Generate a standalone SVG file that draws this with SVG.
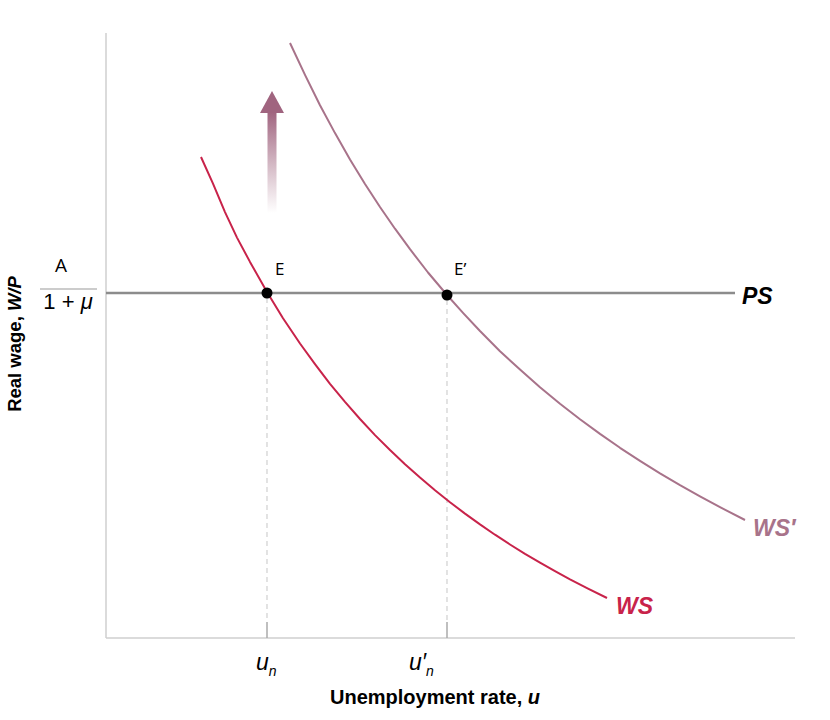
<svg xmlns="http://www.w3.org/2000/svg" width="830" height="720" viewBox="0 0 830 720">
<defs>
<linearGradient id="shaft" x1="0" y1="1" x2="0" y2="0">
<stop offset="0" stop-color="#a8738a" stop-opacity="0"/>
<stop offset="1" stop-color="#a0647f" stop-opacity="1"/>
</linearGradient>
<style>
.axis{stroke:#cfcfcf;stroke-width:1.5;fill:none}
.tick{stroke:#aaaaaa;stroke-width:1.5}
.dash{stroke:#d0d0d0;stroke-width:1.2;stroke-dasharray:5,4;fill:none}
.ps{stroke:#8c8c8c;stroke-width:2.5;fill:none}
.ws{stroke:#c8234a;stroke-width:2;fill:none;stroke-linejoin:round}
.wsp{stroke:#a8738a;stroke-width:2;fill:none;stroke-linejoin:round}
.lbl{font-family:"Liberation Sans",Arial,sans-serif}
.cal{font-family:"Open Sans","Liberation Sans",sans-serif;fill:#000}
</style>
</defs>
<rect width="830" height="720" fill="#ffffff"/>
<g id="axes">
<line class="axis" x1="106" y1="33" x2="106" y2="638"/>
<line class="axis" x1="106" y1="638" x2="795" y2="638"/>
<line class="tick" x1="267" y1="622" x2="267" y2="638"/>
<line class="tick" x1="447" y1="622" x2="447" y2="638"/>
</g>
<g id="connectors">
<line class="dash" x1="267" y1="298" x2="267" y2="622"/>
<line class="dash" x1="447" y1="300" x2="447" y2="622"/>
</g>
<g id="PS">
<line class="ps" x1="106" y1="293" x2="735" y2="293"/>
<text class="lbl" x="742" y="304" font-size="23" font-weight="bold" font-style="italic" fill="#000">PS</text>
</g>
<g id="WS">
<polyline class="ws" points="201,157 213,183.6 225,212.1 237,237.6 250,261.9 267,292 283,318.2 300,343.5 315,364.1 330,383.8 345,401.8 360,419 375,435.1 390,450 405,464.2 420,477.6 435,490.2 450,502.2 465,513.6 480,524.4 495,534.7 510,544.5 525,553.9 540,562.7 555,571.2 570,579.4 588,588.7 607,598"/>
<text class="lbl" x="616" y="614" font-size="23" font-weight="bold" font-style="italic" fill="#c8234a">WS</text>
</g>
<g id="WSprime">
<polyline class="wsp" points="290,43 305,74.9 320,105.2 335,133.1 350,159.4 365,184 380,207 395,228.7 410,249.2 428,272.5 447,295 463,312.8 480,331 500,351.2 520,369.6 540,387.2 560,403.7 580,419.2 600,433.9 620,447.8 640,460.9 660,473.4 680,485.2 700,496.4 720,507.2 745,520"/>
<text class="lbl" x="753" y="536" font-size="23" font-weight="bold" font-style="italic" fill="#a8738a">WS′</text>
</g>
<g id="shift-arrow">
<rect x="267.5" y="112" width="9" height="101" fill="url(#shaft)"/>
<polygon points="272,91 284,113 260,113" fill="#a0647f"/>
</g>
<g id="E">
<circle cx="267" cy="293" r="5.5" fill="#000"/>
<text class="cal" x="275" y="275" font-size="17">E</text>
</g>
<g id="Eprime">
<circle cx="447" cy="295" r="5.5" fill="#000"/>
<text class="cal" x="454" y="275" font-size="17">E’</text>
</g>
<g id="y-value">
<text class="cal" x="55" y="272" font-size="19">A</text>
<line x1="40" y1="289" x2="97" y2="289" stroke="#999" stroke-width="1"/>
<text class="lbl" x="68" y="309" font-size="22" text-anchor="middle" fill="#000">1 + <tspan font-style="italic">μ</tspan></text>
</g>
<g id="y-label">
<text class="lbl" transform="translate(21,344) rotate(-90)" font-size="18.5" font-weight="bold" text-anchor="middle" fill="#000">Real wage, <tspan font-style="italic">W/P</tspan></text>
</g>
<g id="x-labels">
<text class="lbl" x="256" y="670" font-size="23" font-style="italic" fill="#000">u<tspan font-size="14" dy="6">n</tspan></text>
<text class="lbl" x="409" y="670" font-size="23" font-style="italic" fill="#000">u′<tspan font-size="14" dy="6">n</tspan></text>
<text class="lbl" x="330" y="704" font-size="20" font-weight="bold" fill="#000">Unemployment rate, <tspan font-style="italic">u</tspan></text>
</g>
</svg>
